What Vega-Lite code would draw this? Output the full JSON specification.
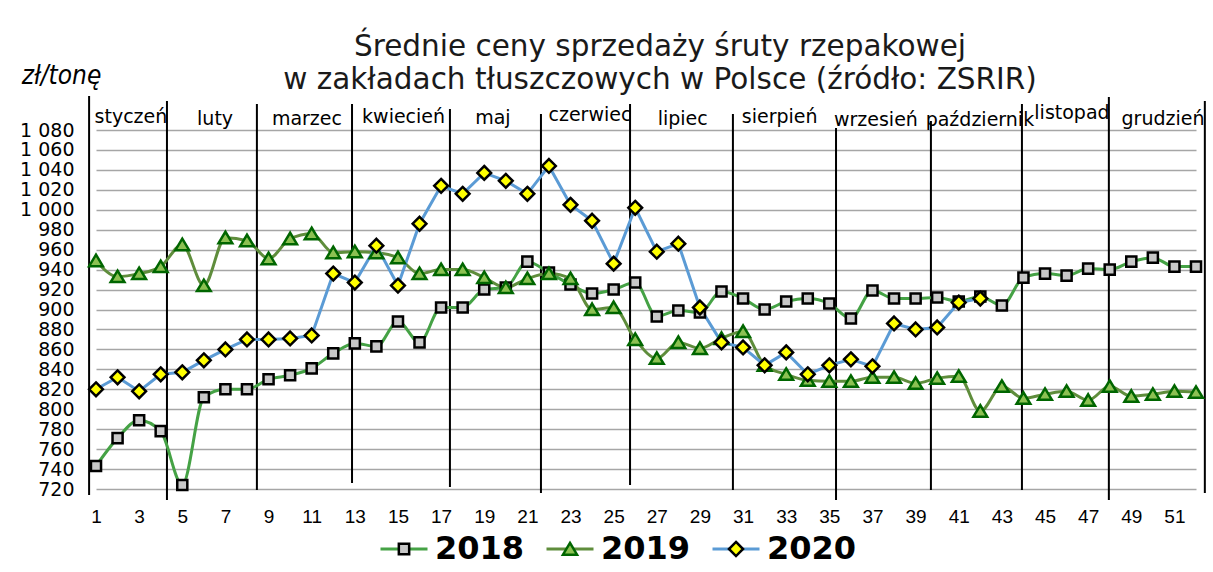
{
  "$schema": "https://vega.github.io/schema/vega-lite/v6.json",
  "width": 1100,
  "height": 359,
  "autosize": {"type": "none"},
  "padding": {"left": 96, "top": 130, "right": 17, "bottom": 83},
  "background": "white",
  "title": {
    "text": ["Średnie ceny  sprzedaży śruty rzepakowej", "w zakładach tłuszczowych w Polsce  (źródło: ZSRIR)"],
    "font": "DejaVu Sans",
    "fontSize": 29.5,
    "fontWeight": "normal",
    "color": "#1a1a1a",
    "anchor": "middle",
    "dx": 14,
    "dy": 33,
    "lineHeight": 33,
    "offset": 0
  },
  "config": {"view": {"stroke": null}},
  "datasets": {
    "dividers": [
      {"week": 0.68, "value": 1114, "value2": 714},
      {"week": 4.29, "value": 1109, "value2": 709},
      {"week": 8.46, "value": 1106, "value2": 719},
      {"week": 12.87, "value": 1106, "value2": 726},
      {"week": 17.41, "value": 1101, "value2": 722},
      {"week": 21.63, "value": 1096, "value2": 716},
      {"week": 25.76, "value": 1106, "value2": 724},
      {"week": 30.53, "value": 1096, "value2": 719},
      {"week": 35.31, "value": 1082, "value2": 709},
      {"week": 39.71, "value": 1089, "value2": 719},
      {"week": 43.93, "value": 1106, "value2": 719},
      {"week": 47.96, "value": 1113, "value2": 709},
      {"week": 52.41, "value": 1109, "value2": 716}
    ],
    "months": [
      {"week": 2.62, "value": 1087, "label": "styczeń"},
      {"week": 6.52, "value": 1085, "label": "luty"},
      {"week": 10.78, "value": 1085, "label": "marzec"},
      {"week": 15.26, "value": 1087, "label": "kwiecień"},
      {"week": 19.4, "value": 1086, "label": "maj"},
      {"week": 23.9, "value": 1089, "label": "czerwiec"},
      {"week": 28.2, "value": 1085, "label": "lipiec"},
      {"week": 32.7, "value": 1087, "label": "sierpień"},
      {"week": 37.16, "value": 1084, "label": "wrzesień"},
      {"week": 41.98, "value": 1084, "label": "październik"},
      {"week": 46.25, "value": 1091, "label": "listopad"},
      {"week": 50.47, "value": 1085, "label": "grudzień"}
    ],
    "prices": [
      {"week": 1, "year": "2018", "value": 743},
      {"week": 2, "year": "2018", "value": 771},
      {"week": 3, "year": "2018", "value": 789},
      {"week": 4, "year": "2018", "value": 778},
      {"week": 5, "year": "2018", "value": 724},
      {"week": 6, "year": "2018", "value": 812},
      {"week": 7, "year": "2018", "value": 820},
      {"week": 8, "year": "2018", "value": 820},
      {"week": 9, "year": "2018", "value": 830},
      {"week": 10, "year": "2018", "value": 834},
      {"week": 11, "year": "2018", "value": 841},
      {"week": 12, "year": "2018", "value": 856},
      {"week": 13, "year": "2018", "value": 866},
      {"week": 14, "year": "2018", "value": 863},
      {"week": 15, "year": "2018", "value": 888},
      {"week": 16, "year": "2018", "value": 867},
      {"week": 17, "year": "2018", "value": 902},
      {"week": 18, "year": "2018", "value": 902},
      {"week": 19, "year": "2018", "value": 920},
      {"week": 20, "year": "2018", "value": 922},
      {"week": 21, "year": "2018", "value": 948},
      {"week": 22, "year": "2018", "value": 937},
      {"week": 23, "year": "2018", "value": 925},
      {"week": 24, "year": "2018", "value": 916},
      {"week": 25, "year": "2018", "value": 920},
      {"week": 26, "year": "2018", "value": 927},
      {"week": 27, "year": "2018", "value": 893},
      {"week": 28, "year": "2018", "value": 899},
      {"week": 29, "year": "2018", "value": 897},
      {"week": 30, "year": "2018", "value": 918},
      {"week": 31, "year": "2018", "value": 911},
      {"week": 32, "year": "2018", "value": 900},
      {"week": 33, "year": "2018", "value": 908},
      {"week": 34, "year": "2018", "value": 911},
      {"week": 35, "year": "2018", "value": 906},
      {"week": 36, "year": "2018", "value": 891},
      {"week": 37, "year": "2018", "value": 919},
      {"week": 38, "year": "2018", "value": 911},
      {"week": 39, "year": "2018", "value": 911},
      {"week": 40, "year": "2018", "value": 912},
      {"week": 41, "year": "2018", "value": 908},
      {"week": 42, "year": "2018", "value": 913},
      {"week": 43, "year": "2018", "value": 904},
      {"week": 44, "year": "2018", "value": 932},
      {"week": 45, "year": "2018", "value": 936},
      {"week": 46, "year": "2018", "value": 934},
      {"week": 47, "year": "2018", "value": 941},
      {"week": 48, "year": "2018", "value": 940},
      {"week": 49, "year": "2018", "value": 948},
      {"week": 50, "year": "2018", "value": 952},
      {"week": 51, "year": "2018", "value": 943},
      {"week": 52, "year": "2018", "value": 943},
      {"week": 1, "year": "2019", "value": 949},
      {"week": 2, "year": "2019", "value": 933},
      {"week": 3, "year": "2019", "value": 936},
      {"week": 4, "year": "2019", "value": 943},
      {"week": 5, "year": "2019", "value": 965},
      {"week": 6, "year": "2019", "value": 924},
      {"week": 7, "year": "2019", "value": 972},
      {"week": 8, "year": "2019", "value": 969},
      {"week": 9, "year": "2019", "value": 951},
      {"week": 10, "year": "2019", "value": 971},
      {"week": 11, "year": "2019", "value": 976},
      {"week": 12, "year": "2019", "value": 957},
      {"week": 13, "year": "2019", "value": 958},
      {"week": 14, "year": "2019", "value": 957},
      {"week": 15, "year": "2019", "value": 952},
      {"week": 16, "year": "2019", "value": 936},
      {"week": 17, "year": "2019", "value": 940},
      {"week": 18, "year": "2019", "value": 940},
      {"week": 19, "year": "2019", "value": 932},
      {"week": 20, "year": "2019", "value": 922},
      {"week": 21, "year": "2019", "value": 931},
      {"week": 22, "year": "2019", "value": 936},
      {"week": 23, "year": "2019", "value": 931},
      {"week": 24, "year": "2019", "value": 900},
      {"week": 25, "year": "2019", "value": 902},
      {"week": 26, "year": "2019", "value": 870},
      {"week": 27, "year": "2019", "value": 851},
      {"week": 28, "year": "2019", "value": 867},
      {"week": 29, "year": "2019", "value": 861},
      {"week": 30, "year": "2019", "value": 871},
      {"week": 31, "year": "2019", "value": 878},
      {"week": 32, "year": "2019", "value": 844},
      {"week": 33, "year": "2019", "value": 835},
      {"week": 34, "year": "2019", "value": 829},
      {"week": 35, "year": "2019", "value": 828},
      {"week": 36, "year": "2019", "value": 828},
      {"week": 37, "year": "2019", "value": 832},
      {"week": 38, "year": "2019", "value": 832},
      {"week": 39, "year": "2019", "value": 826},
      {"week": 40, "year": "2019", "value": 831},
      {"week": 41, "year": "2019", "value": 833},
      {"week": 42, "year": "2019", "value": 798},
      {"week": 43, "year": "2019", "value": 823},
      {"week": 44, "year": "2019", "value": 811},
      {"week": 45, "year": "2019", "value": 815},
      {"week": 46, "year": "2019", "value": 818},
      {"week": 47, "year": "2019", "value": 809},
      {"week": 48, "year": "2019", "value": 823},
      {"week": 49, "year": "2019", "value": 813},
      {"week": 50, "year": "2019", "value": 815},
      {"week": 51, "year": "2019", "value": 818},
      {"week": 52, "year": "2019", "value": 817},
      {"week": 1, "year": "2020", "value": 820},
      {"week": 2, "year": "2020", "value": 832},
      {"week": 3, "year": "2020", "value": 818},
      {"week": 4, "year": "2020", "value": 835},
      {"week": 5, "year": "2020", "value": 837},
      {"week": 6, "year": "2020", "value": 849},
      {"week": 7, "year": "2020", "value": 860},
      {"week": 8, "year": "2020", "value": 870},
      {"week": 9, "year": "2020", "value": 870},
      {"week": 10, "year": "2020", "value": 871},
      {"week": 11, "year": "2020", "value": 874},
      {"week": 12, "year": "2020", "value": 936},
      {"week": 13, "year": "2020", "value": 927},
      {"week": 14, "year": "2020", "value": 964},
      {"week": 15, "year": "2020", "value": 924},
      {"week": 16, "year": "2020", "value": 986},
      {"week": 17, "year": "2020", "value": 1024},
      {"week": 18, "year": "2020", "value": 1016},
      {"week": 19, "year": "2020", "value": 1037},
      {"week": 20, "year": "2020", "value": 1029},
      {"week": 21, "year": "2020", "value": 1016},
      {"week": 22, "year": "2020", "value": 1044},
      {"week": 23, "year": "2020", "value": 1005},
      {"week": 24, "year": "2020", "value": 989},
      {"week": 25, "year": "2020", "value": 946},
      {"week": 26, "year": "2020", "value": 1002},
      {"week": 27, "year": "2020", "value": 958},
      {"week": 28, "year": "2020", "value": 966},
      {"week": 29, "year": "2020", "value": 902},
      {"week": 30, "year": "2020", "value": 867},
      {"week": 31, "year": "2020", "value": 862},
      {"week": 32, "year": "2020", "value": 844},
      {"week": 33, "year": "2020", "value": 857},
      {"week": 34, "year": "2020", "value": 835},
      {"week": 35, "year": "2020", "value": 844},
      {"week": 36, "year": "2020", "value": 850},
      {"week": 37, "year": "2020", "value": 843},
      {"week": 38, "year": "2020", "value": 886},
      {"week": 39, "year": "2020", "value": 880},
      {"week": 40, "year": "2020", "value": 882},
      {"week": 41, "year": "2020", "value": 907},
      {"week": 42, "year": "2020", "value": 911}
    ]
  },
  "encoding": {
    "x": {
      "field": "week",
      "type": "quantitative",
      "scale": {"domain": [1, 52], "nice": false, "zero": false},
      "axis": {
        "title": null,
        "values": [1, 3, 5, 7, 9, 11, 13, 15, 17, 19, 21, 23, 25, 27, 29, 31, 33, 35, 37, 39, 41, 43, 45, 47, 49, 51],
        "grid": false,
        "ticks": false,
        "domain": false,
        "labelPadding": 18,
        "labelFont": "Liberation Sans",
        "labelFontSize": 19,
        "labelColor": "#000000",
        "labelFlush": false,
        "labelOverlap": false,
        "format": "d"
      }
    },
    "y": {
      "field": "value",
      "type": "quantitative",
      "scale": {"domain": [720, 1080], "nice": false, "zero": false},
      "axis": {
        "title": "zł/tonę",
        "values": [720, 740, 760, 780, 800, 820, 840, 860, 880, 900, 920, 940, 960, 980, 1000, 1020, 1040, 1060, 1080],
        "grid": true,
        "gridColor": "#a6a6a6",
        "gridWidth": 1.5,
        "ticks": false,
        "domain": false,
        "labelPadding": 22,
        "labelFont": "DejaVu Sans",
        "labelFontSize": 19,
        "labelColor": "#000000",
        "labelFlush": false,
        "labelOverlap": false,
        "labelExpr": "datum.value >= 1000 ? '1 ' + format(datum.value - 1000, '03d') : format(datum.value, 'd')",
        "titleAngle": 0,
        "titleX": -35,
        "titleY": -47,
        "titleAlign": "center",
        "titleBaseline": "alphabetic",
        "titleFont": "DejaVu Sans Condensed",
        "titleFontStyle": "italic",
        "titleFontSize": 26,
        "titleFontWeight": "normal",
        "titleColor": "#000000"
      }
    }
  },
  "layer": [
    {
      "data": {"name": "dividers"},
      "mark": {"type": "rule", "color": "#000000", "strokeWidth": 2, "clip": false},
      "encoding": {"y2": {"field": "value2"}}
    },
    {
      "data": {"name": "months"},
      "mark": {"type": "text", "font": "DejaVu Sans", "fontSize": 19, "baseline": "alphabetic", "align": "center", "color": "#000000"},
      "encoding": {"text": {"field": "label"}}
    },
    {
      "data": {"name": "prices"},
      "transform": [{"filter": "datum.year !== '2020'"}],
      "mark": {"type": "line", "interpolate": "monotone", "strokeWidth": 3},
      "encoding": {
        "color": {
          "field": "year",
          "type": "nominal",
          "scale": {"range": ["#45a245", "#5f8d3c", "#5b9bd5"]},
          "legend": {"title": null, "orient": "none", "legendX": 283, "legendY": 394, "direction": "horizontal", "columns": 3, "symbolType": "stroke", "symbolSize": 2209, "symbolStrokeWidth": 3, "labelFont": "DejaVu Sans", "labelFontSize": 32, "labelFontWeight": "bold", "labelColor": "#000000", "labelExpr": "''", "labelOffset": 6, "columnPadding": 105, "padding": 0}
        }
      }
    },
    {
      "data": {"name": "prices"},
      "transform": [{"filter": "datum.year === '2020'"}],
      "mark": {"type": "line", "strokeWidth": 3},
      "encoding": {
        "color": {"field": "year", "type": "nominal"}
      }
    },
    {
      "data": {"name": "prices"},
      "mark": {"type": "point", "filled": true, "size": 2100, "strokeWidth": 2.5, "opacity": 1},
      "encoding": {
        "shape": {
          "field": "year",
          "type": "nominal",
          "scale": {"domain": ["2018", "2019", "2020"], "range": ["M-1,0L-1,0M1,0L1,0M-0.22,-0.22H0.22V0.22H-0.22Z", "M-1,0L-1,0M1,0L1,0M0,-0.26L0.3,0.24L-0.3,0.24Z", "M-1,0L-1,0M1,0L1,0M0,-0.3L0.3,0L0,0.3L-0.3,0Z"]},
          "legend": {"title": null, "orient": "none", "legendX": 283, "legendY": 394, "direction": "horizontal", "columns": 3, "symbolSize": 2209, "symbolStrokeWidth": 2.5, "labelFont": "DejaVu Sans", "labelFontSize": 32, "labelFontWeight": "bold", "labelColor": "#000000", "labelOffset": 6, "columnPadding": 16, "padding": 0}
        },
        "fill": {
          "field": "year",
          "type": "nominal",
          "scale": {"domain": ["2018", "2019", "2020"], "range": ["#c8c8c8", "#8cc152", "#ffff00"]},
          "legend": {"title": null, "orient": "none", "legendX": 283, "legendY": 394, "direction": "horizontal", "columns": 3, "symbolSize": 2209, "symbolStrokeWidth": 2.5, "labelFont": "DejaVu Sans", "labelFontSize": 32, "labelFontWeight": "bold", "labelColor": "#000000", "labelOffset": 6, "columnPadding": 16, "padding": 0}
        },
        "stroke": {
          "field": "year",
          "type": "nominal",
          "scale": {"domain": ["2018", "2019", "2020"], "range": ["#000000", "#006600", "#000000"]},
          "legend": {"title": null, "orient": "none", "legendX": 283, "legendY": 394, "direction": "horizontal", "columns": 3, "symbolSize": 2209, "symbolStrokeWidth": 2.5, "labelFont": "DejaVu Sans", "labelFontSize": 32, "labelFontWeight": "bold", "labelColor": "#000000", "labelOffset": 6, "columnPadding": 16, "padding": 0}
        }
      }
    }
  ]
}
